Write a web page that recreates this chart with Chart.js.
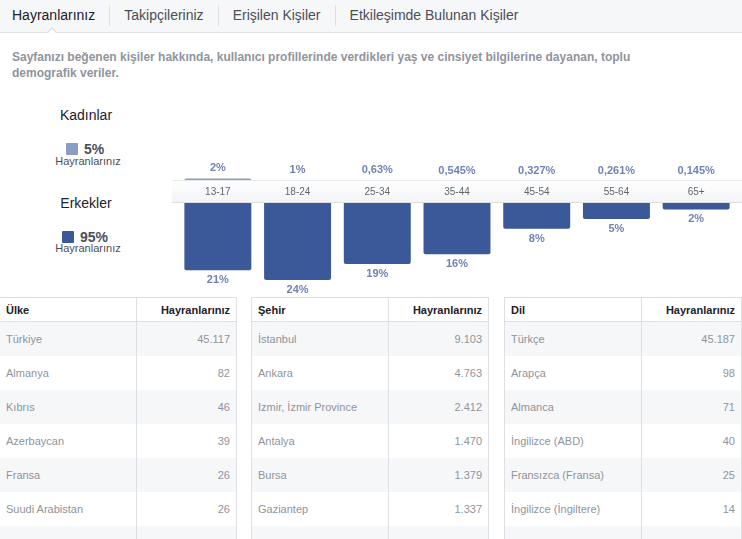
<!DOCTYPE html>
<html lang="tr">
<head>
<meta charset="utf-8">
<title>Hayranlarınız</title>
<script src="https://cdn.jsdelivr.net/npm/chart.js@4.4.1/dist/chart.umd.min.js"></script>
<style>
  body {
    margin: 0;
    width: 742px;
    height: 539px;
    position: relative;
    overflow: hidden;
    background: #fff;
    font-family: 'Liberation Sans', Arial, sans-serif;
  }
  #tabs {
    position: absolute;
    left: 0; top: 0;
    width: 742px; height: 32px;
    background: #f6f7f9;
    border-bottom: 1px solid #dddfe2;
    white-space: nowrap;
  }
  .tab {
    display: inline-block;
    font-size: 14px;
    color: #4b4f56;
    line-height: 21px;
    margin-top: 5px;
    padding: 0 14px;
    border-left: 1px solid #dddfe2;
  }
  .tab.active { color: #1d2129; padding-left: 12px; border-left: none; }
  .caret, .caret-in {
    position: absolute;
    width: 0; height: 0;
    border-left: 6px solid transparent;
    border-right: 6px solid transparent;
  }
  .caret { left: 46px; top: 27px; border-bottom: 6px solid #dddfe2; }
  .caret-in { left: 47px; top: 29px; border-left-width: 5px; border-right-width: 5px; border-bottom: 5px solid #fff; }
  #intro {
    position: absolute;
    left: 12px; top: 49px;
    font-size: 12px;
    font-weight: bold;
    line-height: 16px;
    color: #90949c;
  }
  .gender { position: absolute; width: 100px; text-align: center; font-size: 14px; color: #1d2129; }
  .share { position: absolute; font-size: 14px; font-weight: bold; color: #4b4f56; line-height: 16px; }
  .share i { display: inline-block; width: 12px; height: 12px; border-radius: 1px; vertical-align: -1px; margin-right: 6px; }
  .fans { position: absolute; width: 100px; text-align: center; font-size: 11px; color: #4b4f56; }
  .chart-box { position: absolute; left: 160px; width: 582px; }
  .stat {
    position: absolute;
    top: 297px;
    border-collapse: collapse;
    table-layout: fixed;
    font-size: 11px;
    border-left: 1px solid #dddfe2;
    border-right: 1px solid #dddfe2;
  }
  .stat th {
    height: 23px;
    padding: 0 6px;
    font-weight: bold;
    color: #1d2129;
    text-align: left;
    border-top: 1px solid #dddfe2;
    border-bottom: 1px solid #dddfe2;
  }
  .stat td { height: 34px; padding: 0 6px; color: #90949c; }
  .stat tbody tr:nth-child(odd) td { background: #f6f7f9; }
  .stat th:first-child, .stat td:first-child { border-right: 1px solid #dddfe2; }
  .stat .num { text-align: right; }
</style>
</head>
<body>

<div id="tabs">
  <span class="tab active">Hayranlarınız</span><span class="tab">Takipçileriniz</span><span class="tab">Erişilen Kişiler</span><span class="tab">Etkileşimde Bulunan Kişiler</span>
</div>
<div class="caret"></div><div class="caret-in"></div>

<div id="intro">Sayfanızı beğenen kişiler hakkında, kullanıcı profillerinde verdikleri yaş ve cinsiyet bilgilerine dayanan, toplu<br>demografik veriler.</div>

<div class="gender" style="left:36px; top:107px;">Kadınlar</div>
<div class="share" style="left:66px; top:141px;"><i style="background:#8b9dc3"></i>5%</div>
<div class="fans" style="left:38px; top:155px;">Hayranlarınız</div>

<div class="gender" style="left:36px; top:195px;">Erkekler</div>
<div class="share" style="left:62px; top:229px;"><i style="background:#3b5998"></i>95%</div>
<div class="fans" style="left:38px; top:242px;">Hayranlarınız</div>

<div class="chart-box" style="top:132px; height:50px;"><canvas id="women-chart"></canvas></div>
<div class="chart-box" style="top:180px; height:116px;"><canvas id="men-chart"></canvas></div>

<table class="stat" id="country-table" style="left:-1px; width:238px;"></table>
<table class="stat" id="city-table" style="left:251px; width:238px;"></table>
<table class="stat" id="language-table" style="left:504px; width:238px;"></table>

<script>
'use strict';

// Data ********** //
let ageGroups = ['13-17', '18-24', '25-34', '35-44', '45-54', '55-64', '65+'];
let womenFans = [2, 1, 0.63, 0.545, 0.327, 0.261, 0.145]; // percent
let menFans = [21, 24, 19, 16, 8, 5, 2]; // percent

let countries = ['Türkiye', 'Almanya', 'Kıbrıs', 'Azerbaycan', 'Fransa', 'Suudi Arabistan'];
let countryFans = ['45.117', '82', '46', '39', '26', '26'];
let cities = ['İstanbul', 'Ankara', 'Izmir, İzmir Province', 'Antalya', 'Bursa', 'Gaziantep'];
let cityFans = ['9.103', '4.763', '2.412', '1.470', '1.379', '1.337'];
let languages = ['Türkçe', 'Arapça', 'Almanca', 'İngilizce (ABD)', 'Fransızca (Fransa)', 'İngilizce (İngiltere)'];
let languageFans = ['45.187', '98', '71', '40', '25', '14'];

// Helpers ********** //
function percentText(value) {
  return String(value).replace('.', ',') + '%';
}

// labels over / under every bar
let valueLabels = {
  id: 'valueLabels',
  afterDatasetsDraw(chart, args, opts) {
    let ctx = chart.ctx;
    let values = chart.data.datasets[0].data;
    ctx.save();
    ctx.font = 'bold 11px "Liberation Sans", Arial, sans-serif';
    ctx.fillStyle = '#7083b5';
    ctx.textAlign = 'center';
    ctx.textBaseline = 'middle';
    chart.getDatasetMeta(0).data.forEach(function (bar, i) {
      let y = opts.below ? bar.y + 10 : bar.y - 10.5;
      ctx.fillText(percentText(values[i]), bar.x, y);
    });
    ctx.restore();
  }
};

// the light strip that carries the age labels
let ageBand = {
  id: 'ageBand',
  beforeDraw(chart) {
    let ctx = chart.ctx;
    let band = chart.scales.x;
    let grad = ctx.createLinearGradient(0, band.top, 0, band.bottom);
    grad.addColorStop(0, '#ffffff');
    grad.addColorStop(1, '#f3f4f6');
    ctx.save();
    ctx.fillStyle = grad;
    ctx.fillRect(12, band.top, chart.width - 12, band.bottom - band.top);
    ctx.fillStyle = '#e9ebee';
    ctx.fillRect(12, band.top, chart.width - 12, 1);
    ctx.fillStyle = '#dcdee2';
    ctx.fillRect(12, band.bottom - 1, chart.width - 12, 1);
    ctx.restore();
  }
};

function barChart(canvasId, values, color, isMen) {
  return new Chart(document.getElementById(canvasId), {
    type: 'bar',
    data: {
      labels: ageGroups,
      datasets: [{
        data: values,
        backgroundColor: color,
        borderRadius: 2,
        barPercentage: 0.84,
        categoryPercentage: 1,
        minBarLength: 1
      }]
    },
    options: {
      responsive: true,
      maintainAspectRatio: false,
      animation: false,
      layout: { padding: { left: 18, right: 6, top: 0, bottom: 0 } },
      scales: {
        x: {
          display: isMen,
          position: 'top',
          grid: { display: false, drawTicks: false },
          border: { display: false },
          ticks: {
            color: '#606770',
            padding: 5,
            font: { size: 10, family: '"Liberation Sans", Arial, sans-serif' }
          },
          afterFit(axis) { axis.height = 23; }
        },
        y: {
          display: false,
          min: 0,
          max: isMen ? 29 : 15.6,
          reverse: isMen
        }
      },
      plugins: {
        legend: { display: false },
        tooltip: { enabled: false },
        valueLabels: { below: isMen }
      }
    },
    plugins: isMen ? [ageBand, valueLabels] : [valueLabels]
  });
}

function fillTable(tableId, title, names, counts) {
  let table = document.getElementById(tableId);
  let html = '<colgroup><col style="width:137px"><col></colgroup>';
  html += '<thead><tr><th>' + title + '</th><th class="num">Hayranlarınız</th></tr></thead><tbody>';
  for (let i = 0; i < names.length; i++) {
    html += '<tr><td>' + names[i] + '</td><td class="num">' + counts[i] + '</td></tr>';
  }
  html += '<tr><td></td><td></td></tr></tbody>'; // next row is cut off by the frame
  table.innerHTML = html;
}

// Executable Code ********** //
barChart('women-chart', womenFans, '#8b9dc3', false);
barChart('men-chart', menFans, '#3b5998', true);

fillTable('country-table', 'Ülke', countries, countryFans);
fillTable('city-table', 'Şehir', cities, cityFans);
fillTable('language-table', 'Dil', languages, languageFans);
</script>
</body>
</html>
